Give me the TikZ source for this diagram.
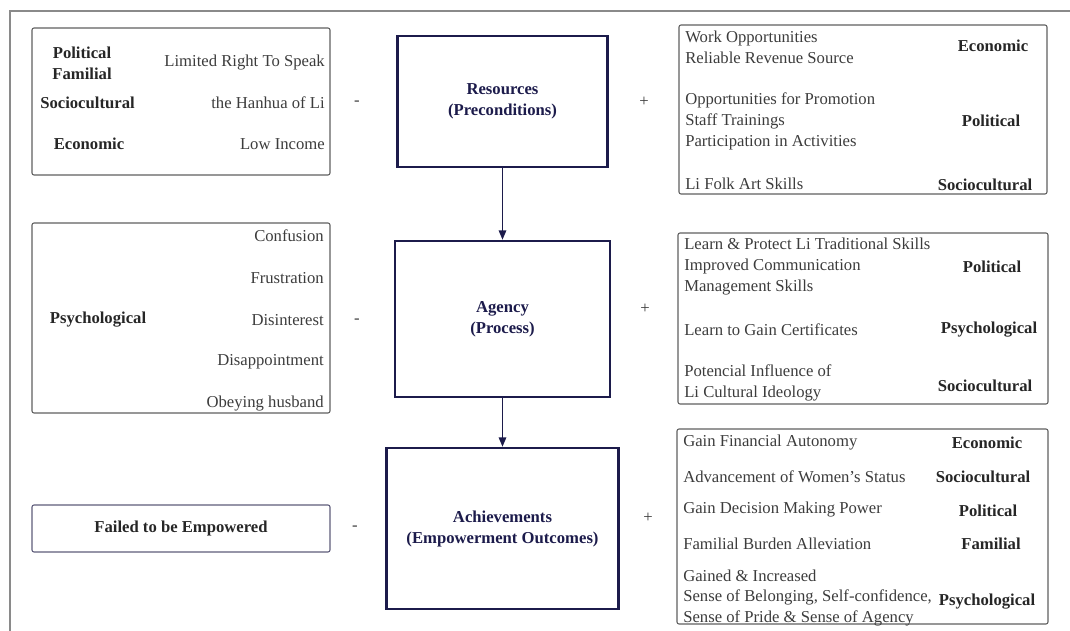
\documentclass[tikz,border=0pt]{standalone}
\usepackage{fontspec}
\setmainfont{LiberationSerif}[Extension=.ttf, UprightFont=*-Regular, BoldFont=*-Bold, ItalicFont=*-Italic, BoldItalicFont=*-BoldItalic]
\usetikzlibrary{arrows.meta}

\definecolor{navy}{HTML}{1C1B4B}
\definecolor{boxgray}{HTML}{606060}
\definecolor{failgray}{HTML}{5E5C7A}
\definecolor{txtgray}{HTML}{3C3C3C}
\definecolor{catgray}{HTML}{262626}
\definecolor{framegray}{HTML}{8A8A8A}

\begin{document}
\begin{tikzpicture}[x=0.75pt, y=-0.75pt,
    every node/.style={inner sep=0pt, font=\fontsize{12.5}{15.75}\selectfont},
    stage/.style={draw=navy, line width=1.8pt, align=center, text=navy,
        font=\fontsize{12.5}{15.75}\selectfont\bfseries},
    side/.style={draw=boxgray, line width=0.8pt, rounded corners=1.5pt},
    item/.style={text=txtgray, align=left},
    cat/.style={text=catgray, align=center, font=\fontsize{12.5}{15.75}\selectfont\bfseries},
    sign/.style={text=txtgray}]
    \useasboundingbox (0,0) rectangle (1070,631);
    \draw[framegray, line width=0.9pt] (10,631) -- (10,11) -- (1070,11);
    % Stages
    \node[stage, minimum width=157.5pt, minimum height=98.25pt] (res) at (502.5,101.5) {Resources\\(Preconditions)};
    \node[stage, minimum width=161.25pt, minimum height=117pt] (agc) at (502.5,319) {Agency\\(Process)};
    \node[stage, minimum width=174pt, minimum height=120.75pt] (ach) at (502.5,528.5) {Achievements\\(Empowerment Outcomes)};
    \draw[navy, line width=1.3pt, -{Triangle[length=7pt, width=5.5pt]}] (res.south) -- (agc.north);
    \draw[navy, line width=1.3pt, -{Triangle[length=7pt, width=5.5pt]}] (agc.south) -- (ach.north);
    % Negative side
    \node[side, minimum width=223.5pt, minimum height=110.25pt] (neg1) at (181,101.5) {};
    \node[cat] (n1pol) at (82,63) {Political\\Familial};
    \node[cat] (n1soc) at (87.5,103) {Sociocultural};
    \node[cat] (n1eco) at (89,144) {Economic};
    \node[item, anchor=east] (n1a) at (325,63) {Limited Right To Speak};
    \node[item, anchor=east] (n1b) at (325,103) {the Hanhua of Li};
    \node[item, anchor=east] (n1c) at (325,144) {Low Income};
    \node[side, minimum width=223.5pt, minimum height=142.5pt] (neg2) at (181,318) {};
    \node[cat] (n2psy) at (98,320) {Psychological};
    \foreach \t [count=\i] in {Confusion, Frustration, Disinterest, Disappointment, Obeying husband}
        \node[item, anchor=east] (n2-\i) at (324,194+42*\i) {\t};
    \node[side, draw=failgray, minimum width=223.5pt, minimum height=35.25pt, text=catgray,
        font=\fontsize{12.5}{15.75}\selectfont\bfseries] (neg3) at (181,528.5) {Failed to be Empowered};
    \node[sign] (m1) at (357,103) {-};
    \node[sign] (m2) at (357,321) {-};
    \node[sign] (m3) at (355,528) {-};
    % Positive side
    \node[sign] (p1) at (644,102) {+};
    \node[sign] (p2) at (645,309) {+};
    \node[sign] (p3) at (648,518) {+};
    \node[side, minimum width=276pt, minimum height=126.75pt] (pos1) at (863,109.5) {};
    \node[item, anchor=west] (p1a) at (685,47.5) {Work Opportunities\\Reliable Revenue Source};
    \node[item, anchor=west] (p1b) at (685,121) {Opportunities for Promotion\\Staff Trainings\\Participation in Activities};
    \node[item, anchor=west] (p1c) at (685,184) {Li Folk Art Skills};
    \node[cat] (p1eco) at (993,46) {Economic};
    \node[cat] (p1pol) at (991,121) {Political};
    \node[cat] (p1soc) at (985,185) {Sociocultural};
    \node[side, minimum width=277.5pt, minimum height=128.25pt] (pos2) at (863,318.5) {};
    \node[item, anchor=west] (p2a) at (684,266.5) {Learn \& Protect Li Traditional Skills\\Improved Communication\\Management Skills};
    \node[item, anchor=west] (p2b) at (684,330) {Learn to Gain Certificates};
    \node[item, anchor=west] (p2c) at (684,382.5) {Potencial Influence of\\Li Cultural Ideology};
    \node[cat] (p2pol) at (992,267) {Political};
    \node[cat] (p2psy) at (989,330) {Psychological};
    \node[cat] (p2soc) at (985,386) {Sociocultural};
    \node[side, minimum width=278.25pt, minimum height=146.25pt] (pos3) at (862.5,526.5) {};
    \node[item, anchor=west] (p3a) at (683,443) {Gain Financial Autonomy};
    \node[item, anchor=west] (p3b) at (683,477) {Advancement of Women's Status};
    \node[item, anchor=west] (p3c) at (683,510) {Gain Decision Making Power};
    \node[item, anchor=west] (p3d) at (683,544) {Familial Burden Alleviation};
    \node[item, anchor=west, font=\fontsize{12.5}{15.2}\selectfont] (p3e) at (683,598) {Gained \& Increased\\Sense of Belonging, Self-confidence,\\Sense of Pride \& Sense of Agency};
    \node[cat] (p3eco) at (987,443) {Economic};
    \node[cat] (p3soc) at (983,477) {Sociocultural};
    \node[cat] (p3pol) at (988,511) {Political};
    \node[cat] (p3fam) at (991,544) {Familial};
    \node[cat] (p3psy) at (987,602) {Psychological};
\end{tikzpicture}
\end{document}
